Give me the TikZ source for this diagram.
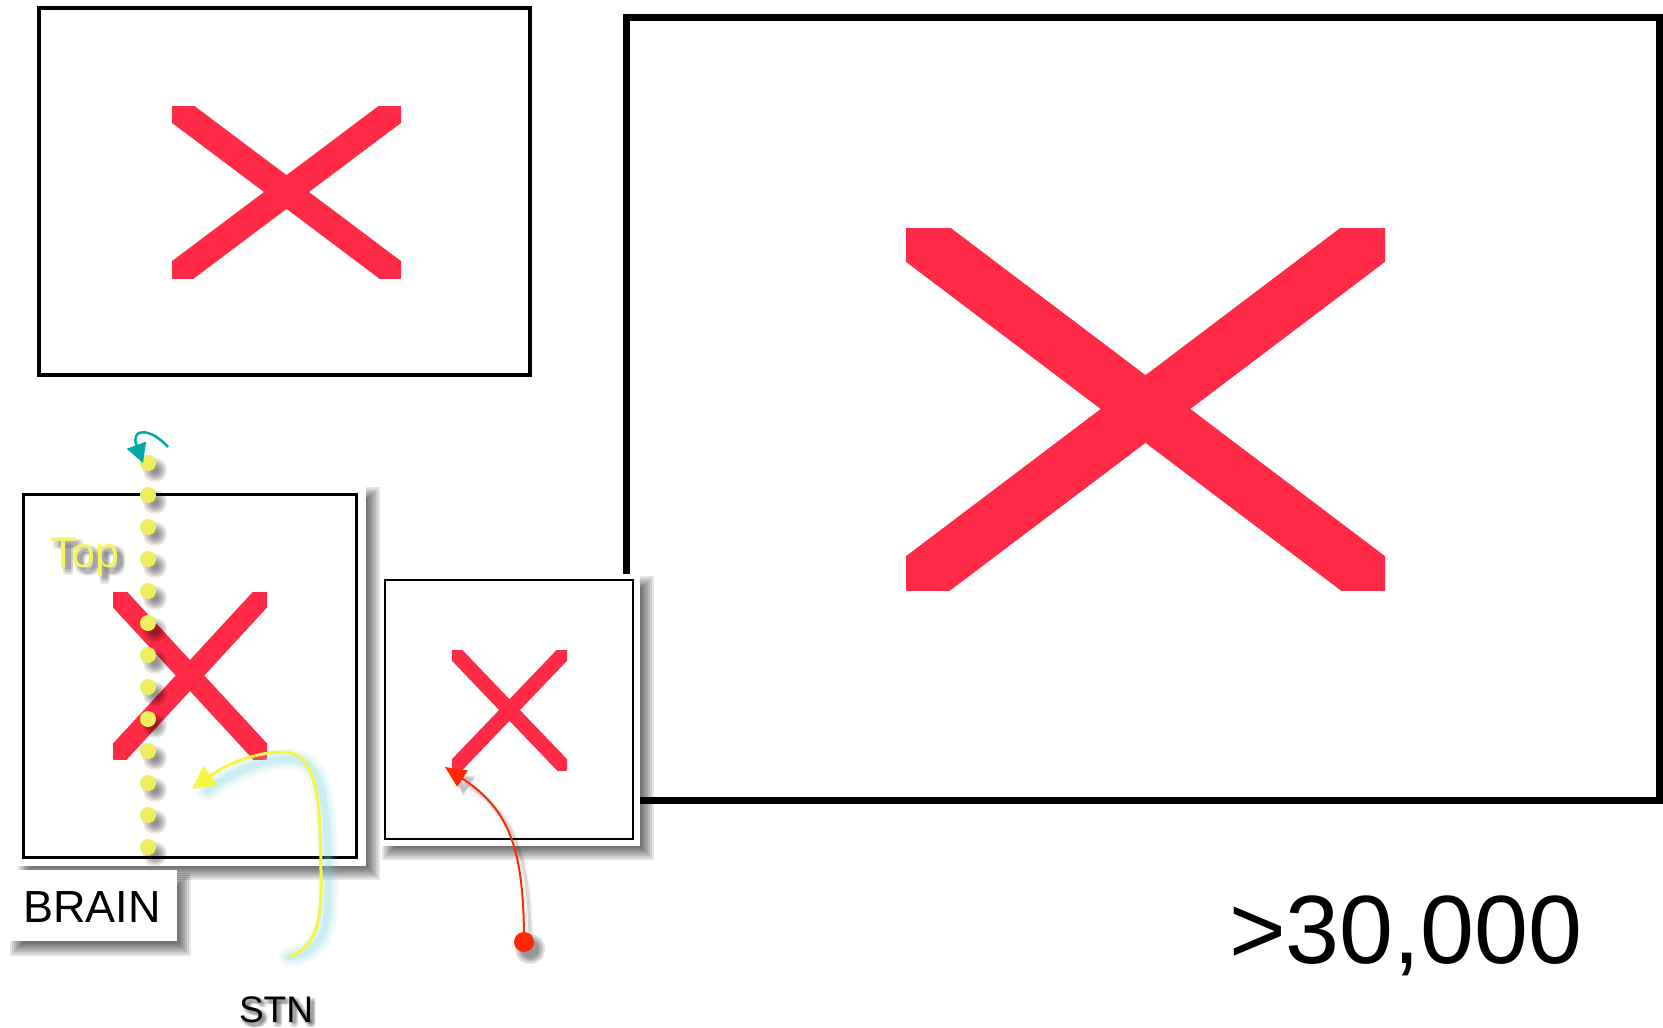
\documentclass[tikz,border=0pt]{standalone}
\usepackage{fontspec}
\setmainfont{Liberation Sans}
\usetikzlibrary{arrows.meta}

\definecolor{xred}{RGB}{255,42,69}
\definecolor{dotyellow}{RGB}{240,238,90}
\definecolor{topyellow}{RGB}{245,245,95}
\definecolor{curveyellow}{RGB}{245,245,70}
\definecolor{glowcyan}{RGB}{120,215,225}
\definecolor{tealarr}{RGB}{0,168,168}
\definecolor{redarr}{RGB}{255,40,0}

% soft drop shadow behind a rectangle (corners already offset)
\newcommand\softshadow[4]{%
  \foreach \k in {-6,-4,...,6}{%
    \fill[black,opacity=0.1] ({#1-\k},{#2-\k}) rectangle ({#3+\k},{#4+\k});}}

% red cross: two thick diagonals clipped to their box
\newcommand\crossmark[5]{%
  \begin{scope}
    \clip (#1,#2) rectangle (#3,#4);
    \draw[xred, line width=#5pt] (#1,#2) -- (#3,#4) (#1,#4) -- (#3,#2);
  \end{scope}}

% blurred grey copy of a label: x, y (baseline), font size, text, name, offset list
\newcommand\labelshadow[6]{%
  \foreach \dx in {#6}{\foreach \dy in {#6}{%
    \node[anchor=base, inner sep=0pt, text=black, opacity=0.05,
          font=\fontsize{#3}{#3}\selectfont] (#5sh\dx\dy) at ({#1+\dx},{#2+\dy}) {#4};}}}

\tikzset{
  frame/.style={draw=black, fill=none, inner sep=0pt, outer sep=0pt},
  whitecard/.style={fill=white, draw=none, inner sep=0pt, outer sep=0pt},
  dotmark/.style={circle, fill=dotyellow, draw=none, minimum size=16pt, inner sep=0pt},
  reddot/.style={circle, fill=redarr, draw=none, minimum size=20pt, inner sep=0pt},
  label/.style={anchor=base, inner sep=0pt, text=black},
}

\begin{document}
\begin{tikzpicture}[x=1pt, y=-1pt]
  \useasboundingbox (0,0) rectangle (1663,1028);
  \fill[white] (0,0) rectangle (1663,1028);

  % upper left panel
  \node[frame, line width=3.5pt, minimum width=491pt, minimum height=367pt] (tlbox) at (284.5,191.5) {};
  \crossmark{172}{106}{401}{278}{27}

  % large panel
  \node[frame, line width=7pt, minimum width=1033pt, minimum height=783pt] (bigbox) at (1143,409) {};
  \crossmark{906}{228}{1385}{590}{54}

  % lower left panel
  \softshadow{24}{493}{374}{874}
  \node[whitecard, minimum width=350pt, minimum height=381pt] (llcard) at (191,675.5) {};
  \node[frame, line width=3pt, minimum width=333pt, minimum height=363pt] (llbox) at (189.5,675.5) {};
  \crossmark{113}{592}{267}{759}{21}

  % small panel
  \softshadow{388}{582}{648}{854}
  \node[whitecard, minimum width=260pt, minimum height=272pt] (smcard) at (510,710) {};
  \node[frame, line width=2.5pt, minimum width=248pt, minimum height=259pt] (smbox) at (509,709.5) {};
  \crossmark{452}{650}{567}{770}{15}

  % BRAIN tag
  \softshadow{16}{879}{185}{950}
  \node[whitecard, minimum width=169pt, minimum height=71pt] (braincard) at (92.5,905.5) {};
  \node[label, font=\fontsize{45}{45}\selectfont] (brain) at (92,922) {BRAIN};

  % Top label
  \labelshadow{85}{567}{43}{Top}{top}{2,4,6,8}
  \node[label, text=topyellow, font=\fontsize{43}{43}\selectfont] (toplabel) at (85,567) {Top};

  % dotted vertical line
  \foreach \k in {0,...,12}{
    \pgfmathsetmacro\yy{463+32*\k}
    \foreach \r in {12,10,8,6,4}{
      \fill[black, opacity=0.1] (155,{\yy+7}) circle[radius=\r pt];}
    \node[dotmark] (dot\k) at (148,\yy) {};
  }

  % teal arrow into the top dot
  \coordinate (tealstart) at (168,447);
  \draw[tealarr, line width=2.5pt, -{Triangle[length=19pt,width=20pt]}]
    (tealstart) .. controls (150,427) and (130,428) .. ([xshift=-5pt]dot0.center);

  % yellow arrow from STN
  \coordinate (stnend) at (289,957);
  \coordinate (stntip) at (192,789);
  \begin{scope}[shift={(7,7)}]
    \foreach \w/\o in {20/0.10, 13/0.14, 7/0.2}{
      \draw[glowcyan, line width=\w pt, opacity=\o, line cap=round, line join=round]
        (stnend) .. controls (318,945) and (322,920) .. (321,870)
        .. controls (320,800) and (318,752) .. (283,752)
        .. controls (255,752) and (225,765) .. (200,784);}
  \end{scope}
  \draw[curveyellow, line width=3pt, -{Triangle[length=23pt,width=23pt]}]
    (stnend) .. controls (318,945) and (322,920) .. (321,870)
    .. controls (320,800) and (318,752) .. (283,752)
    .. controls (255,752) and (225,765) .. (stntip);

  % red arrow
  \coordinate (redtip) at (445,767);
  \begin{scope}[shift={(6,7)}]
    \foreach \w/\o in {6/0.06, 3/0.1}{
      \draw[black, opacity=\o, line width=\w pt, -{Triangle[length=22pt,width=21pt]}]
        (524,942) .. controls (524,850) and (510,810) .. (445,767);}
    \foreach \r in {15,13,11,9}{
      \fill[black, opacity=0.12] (524,942) circle[radius=\r pt];}
  \end{scope}
  \node[reddot] (src) at (524,942) {};
  \draw[redarr, line width=2pt, -{Triangle[length=21pt,width=19pt]}]
    (src.center) .. controls (524,850) and (510,810) .. (redtip);

  % STN label
  \labelshadow{276}{1022}{37}{STN}{stn}{1,2.5,4,5.5}
  \node[label, font=\fontsize{37}{37}\selectfont] (stn) at (276,1022) {STN};

  % count
  \node[label, font=\fontsize{97}{97}\selectfont] (count) at (1406,963) {>30,000};
\end{tikzpicture}
\end{document}
